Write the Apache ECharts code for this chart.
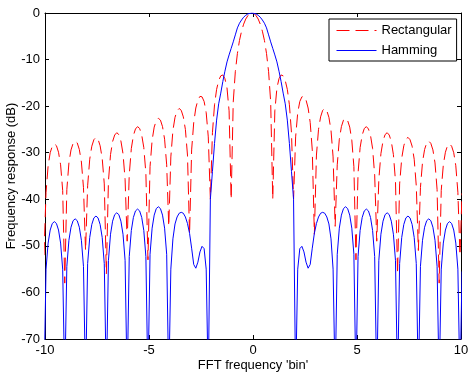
<!DOCTYPE html>
<html>
<head>
<meta charset="utf-8">
<script src="https://cdn.jsdelivr.net/npm/echarts@6/dist/echarts.min.js"></script>
<style>
html,body{margin:0;padding:0;background:#fff;}
#chart{width:475px;height:381px;}
</style>
</head>
<body>
<div id="chart"></div>
<script>
// Frequency grid (FFT bins) on which both responses are sampled
var bins = [
-10.05,-9.95,-9.85,-9.75,-9.65,-9.55,-9.45,-9.35,-9.25,-9.15,
-9.05,-8.95,-8.85,-8.75,-8.65,-8.55,-8.45,-8.35,-8.25,-8.15,
-8.05,-7.95,-7.85,-7.75,-7.65,-7.55,-7.45,-7.35,-7.25,-7.15,
-7.05,-6.95,-6.85,-6.75,-6.65,-6.55,-6.45,-6.35,-6.25,-6.15,
-6.05,-5.95,-5.85,-5.75,-5.65,-5.55,-5.45,-5.35,-5.25,-5.15,
-5.05,-4.95,-4.85,-4.75,-4.65,-4.55,-4.45,-4.35,-4.25,-4.15,
-4.05,-3.95,-3.85,-3.75,-3.65,-3.55,-3.45,-3.35,-3.25,-3.15,
-3.05,-2.95,-2.85,-2.75,-2.65,-2.55,-2.45,-2.35,-2.25,-2.15,
-2.05,-1.95,-1.85,-1.75,-1.65,-1.55,-1.45,-1.35,-1.25,-1.15,
-1.05,-0.95,-0.85,-0.75,-0.65,-0.55,-0.45,-0.35,-0.25,-0.15,
-0.05,
0.05,0.15,0.25,0.35,0.45,0.55,0.65,0.75,0.85,0.95,
1.05,1.15,1.25,1.35,1.45,1.55,1.65,1.75,1.85,1.95,
2.05,2.15,2.25,2.35,2.45,2.55,2.65,2.75,2.85,2.95,
3.05,3.15,3.25,3.35,3.45,3.55,3.65,3.75,3.85,3.95,
4.05,4.15,4.25,4.35,4.45,4.55,4.65,4.75,4.85,4.95,
5.05,5.15,5.25,5.35,5.45,5.55,5.65,5.75,5.85,5.95,
6.05,6.15,6.25,6.35,6.45,6.55,6.65,6.75,6.85,6.95,
7.05,7.15,7.25,7.35,7.45,7.55,7.65,7.75,7.85,7.95,
8.05,8.15,8.25,8.35,8.45,8.55,8.65,8.75,8.85,8.95,
9.05,9.15,9.25,9.35,9.45,9.55,9.65,9.75,9.85,9.95,
10.05
];

// Rectangular window response (dB)
var rectangularDb = [
-52.0,-38.5,-32.8,-30.0,-28.6,-28.1,-28.5,-29.9,-32.6,-38.1,
-58.0,-37.9,-32.2,-29.4,-28.0,-27.5,-27.9,-29.3,-32.0,-37.5,
-51.0,-37.1,-31.4,-28.6,-27.2,-26.7,-27.1,-28.5,-31.2,-36.7,
-56.0,-36.1,-30.4,-27.6,-26.2,-25.7,-26.1,-27.5,-30.2,-35.7,
-49.0,-34.8,-29.1,-26.3,-24.9,-24.4,-24.8,-26.2,-28.9,-34.4,
-53.0,-33.0,-27.3,-24.5,-23.1,-22.6,-23.0,-24.4,-27.1,-32.6,
-45.8,-30.9,-25.2,-22.4,-21.0,-20.5,-20.9,-22.3,-25.0,-30.5,
-47.5,-29.4,-23.5,-20.4,-18.7,-17.9,-18.0,-19.0,-21.4,-26.6,
-40.0,-25.7,-19.7,-16.4,-14.5,-13.5,-13.3,-14.1,-16.1,-21.0,
-40.0,-19.1,-12.6,-8.7,-5.9,-3.9,-2.4,-1.3,-0.6,-0.1,
0,
-0.1,-0.6,-1.3,-2.4,-3.9,-5.9,-8.7,-12.6,-19.1,-40.0,
-21.0,-16.1,-14.1,-13.3,-13.5,-14.5,-16.4,-19.7,-25.7,-40.0,
-26.6,-21.4,-19.0,-18.0,-17.9,-18.7,-20.4,-23.5,-29.4,-47.5,
-30.5,-25.0,-22.3,-20.9,-20.5,-21.0,-22.4,-25.2,-30.9,-45.8,
-32.6,-27.1,-24.4,-23.0,-22.6,-23.1,-24.5,-27.3,-33.0,-53.0,
-34.4,-28.9,-26.2,-24.8,-24.4,-24.9,-26.3,-29.1,-34.8,-49.0,
-35.7,-30.2,-27.5,-26.1,-25.7,-26.2,-27.6,-30.4,-36.1,-56.0,
-36.7,-31.2,-28.5,-27.1,-26.7,-27.2,-28.6,-31.4,-37.1,-51.0,
-37.5,-32.0,-29.3,-27.9,-27.5,-28.0,-29.4,-32.2,-37.9,-58.0,
-38.1,-32.6,-29.9,-28.5,-28.1,-28.6,-30.0,-32.8,-38.5,-52.0,
-38.7
];

// Hamming window response (dB)
var hammingDb = [
-80,-55.0,-49.4,-46.6,-45.2,-44.8,-45.2,-46.6,-49.4,-55.0,
-80,-54.4,-48.8,-46.0,-44.6,-44.2,-44.6,-46.0,-48.8,-54.4,
-80,-53.8,-48.2,-45.4,-44.0,-43.6,-44.0,-45.4,-48.2,-53.8,
-80,-53.1,-47.5,-44.7,-43.3,-42.9,-43.3,-44.7,-47.5,-53.1,
-80,-52.3,-46.7,-43.9,-42.5,-42.1,-42.5,-43.9,-46.7,-52.3,
-80,-51.8,-46.2,-43.4,-42.0,-41.6,-42.0,-43.4,-46.2,-51.8,
-80,-55.0,-48.5,-45.3,-43.8,-43.0,-42.8,-43.0,-43.8,-45.2,
-47.3,-50.5,-54.0,-54.8,-53.5,-51.3,-50.1,-50.6,-55.0,-80,
-40.0,-34.0,-28.0,-23.0,-19.5,-17.2,-14.7,-12.5,-10.5,-9.0,
-7.6,-6.2,-4.7,-3.2,-2.2,-1.5,-0.9,-0.5,-0.2,-0.1,
0,
-0.1,-0.2,-0.5,-0.9,-1.5,-2.2,-3.2,-4.7,-6.2,-7.6,
-9.0,-10.5,-12.5,-14.7,-17.2,-19.5,-23.0,-28.0,-34.0,-40.0,
-80,-55.0,-50.6,-50.1,-51.3,-53.5,-54.8,-54.0,-50.5,-47.3,
-45.2,-43.8,-43.0,-42.8,-43.0,-43.8,-45.3,-48.5,-55.0,-80,
-51.8,-46.2,-43.4,-42.0,-41.6,-42.0,-43.4,-46.2,-51.8,-80,
-52.3,-46.7,-43.9,-42.5,-42.1,-42.5,-43.9,-46.7,-52.3,-80,
-53.1,-47.5,-44.7,-43.3,-42.9,-43.3,-44.7,-47.5,-53.1,-80,
-53.8,-48.2,-45.4,-44.0,-43.6,-44.0,-45.4,-48.2,-53.8,-80,
-54.4,-48.8,-46.0,-44.6,-44.2,-44.6,-46.0,-48.8,-54.4,-80,
-55.0,-49.4,-46.6,-45.2,-44.8,-45.2,-46.6,-49.4,-55.0,-80,
-55.5
];

var seriesNames = ['Rectangular', 'Hamming'];
var xTicks = [-10, -5, 0, 5, 10];
var yTicks = [-70, -60, -50, -40, -30, -20, -10, 0];
var xTitle = "FFT frequency 'bin'";
var yTitle = 'Frequency response (dB)';

function pairs(xs, ys) {
  var out = [];
  for (var i = 0; i < xs.length; i++) out.push([xs[i], ys[i]]);
  return out;
}

var FONT = '"Liberation Sans", Arial, Helvetica, sans-serif';
var chart = echarts.init(document.getElementById('chart'), null, {renderer: 'canvas'});

var axisCommon = {
  axisLine: {show: true, onZero: false, lineStyle: {color: '#000', width: 1}},
  axisTick: {show: true, inside: true, length: 4, lineStyle: {color: '#000', width: 1}},
  splitLine: {show: false}
};

chart.setOption({
  animation: false,
  backgroundColor: '#fff',
  grid: {left: 45, top: 13, right: 14, bottom: 42, containLabel: false, outerBoundsMode: 'none'},
  legend: {
    data: seriesNames,
    orient: 'vertical',
    left: 329, top: 19,
    backgroundColor: '#fff',
    borderColor: '#000', borderWidth: 1, borderRadius: 0,
    padding: [5, 5, 4, 7],
    itemWidth: 40, itemHeight: 13, itemGap: 7,
    itemStyle: {opacity: 0},
    lineStyle: {width: 1},
    textStyle: {fontFamily: FONT, fontSize: 13, color: '#000'}
  },
  xAxis: [
    Object.assign({
      type: 'value', position: 'bottom',
      min: xTicks[0], max: xTicks[xTicks.length - 1], interval: 5,
      name: xTitle, nameLocation: 'middle', nameGap: 20, nameMoveOverlap: false,
      nameTextStyle: {fontFamily: FONT, fontSize: 13, color: '#000'},
      axisLabel: {fontFamily: FONT, fontSize: 13, color: '#000', margin: 5}
    }, axisCommon),
    Object.assign({
      type: 'value', position: 'top',
      min: xTicks[0], max: xTicks[xTicks.length - 1], interval: 5,
      axisLabel: {show: false}
    }, axisCommon)
  ],
  yAxis: [
    Object.assign({
      type: 'value', position: 'left',
      min: yTicks[0], max: yTicks[yTicks.length - 1], interval: 10,
      name: yTitle, nameLocation: 'middle', nameGap: 27, nameMoveOverlap: false,
      nameTextStyle: {fontFamily: FONT, fontSize: 13, color: '#000'},
      axisLabel: {fontFamily: FONT, fontSize: 13, color: '#000', margin: 5}
    }, axisCommon),
    Object.assign({
      type: 'value', position: 'right',
      min: yTicks[0], max: yTicks[yTicks.length - 1], interval: 10,
      axisLabel: {show: false}
    }, axisCommon)
  ],
  series: [
    {
      name: seriesNames[0], type: 'line',
      data: pairs(bins, rectangularDb),
      symbol: 'none', showSymbol: false, clip: true,
      lineStyle: {color: '#ff0000', width: 1, type: [13, 6]},
      itemStyle: {color: '#ff0000'},
      z: 2
    },
    {
      name: seriesNames[1], type: 'line',
      data: pairs(bins, hammingDb),
      symbol: 'none', showSymbol: false, clip: true,
      lineStyle: {color: '#0000ff', width: 1},
      itemStyle: {color: '#0000ff'},
      z: 3
    }
  ]
});
</script>
</body>
</html>
